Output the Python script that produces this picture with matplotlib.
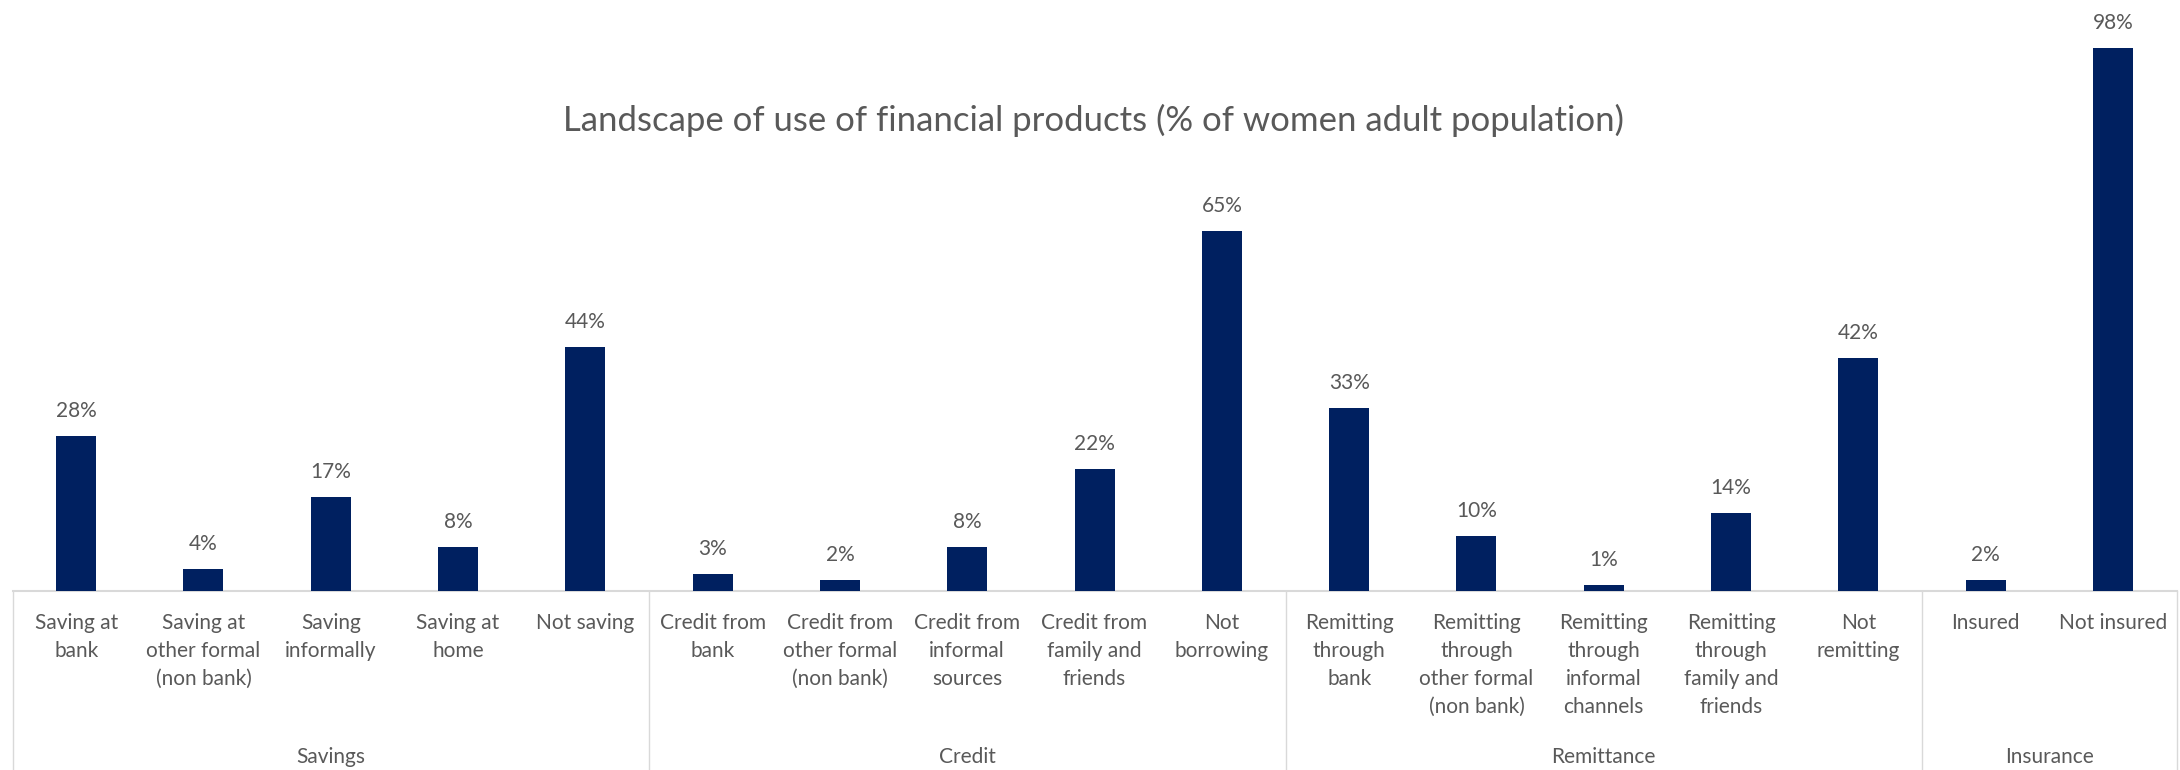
import matplotlib.pyplot as plt
import numpy as np

plt.rcParams['font.family'] = ['Lato', 'DejaVu Sans']

# data: share of women adult population using each product
groups = ["Savings", "Credit", "Remittance", "Insurance"]
group_sizes = [5, 5, 5, 2]
labels = [
    "Saving at\nbank", "Saving at\nother formal\n(non bank)", "Saving\ninformally",
    "Saving at\nhome", "Not saving",
    "Credit from\nbank", "Credit from\nother formal\n(non bank)", "Credit from\ninformal\nsources",
    "Credit from\nfamily and\nfriends", "Not\nborrowing",
    "Remitting\nthrough\nbank", "Remitting\nthrough\nother formal\n(non bank)",
    "Remitting\nthrough\ninformal\nchannels", "Remitting\nthrough\nfamily and\nfriends", "Not\nremitting",
    "Insured", "Not insured",
]
values = [28, 4, 17, 8, 44, 3, 2, 8, 22, 65, 33, 10, 1, 14, 42, 2, 98]

bar_color = "#002060"
text_color = "#595959"
line_color = "#d9d9d9"

W, H = 2180, 770
fig = plt.figure(figsize=(W / 100, H / 100), dpi=100)
ax_left, ax_right = 12.5, 2176.6
ax_bottom, ax_top = 591, 37
ax = fig.add_axes([ax_left / W, 1 - ax_bottom / H,
                   (ax_right - ax_left) / W, (ax_bottom - ax_top) / H])

x = np.arange(len(values))
bars = ax.bar(x, values, width=0.314, color=bar_color, zorder=3)
ax.set_xlim(-0.5, len(values) - 0.5)
ax.set_ylim(0, 100)

for spine in ["top", "right", "left"]:
    ax.spines[spine].set_visible(False)
ax.spines["bottom"].set_color(line_color)
ax.spines["bottom"].set_linewidth(1.5)
ax.set_xticks([])
ax.set_yticks([])

# value labels above bars
for xi, v in zip(x, values):
    ax.annotate(f"{v}%", (xi, v), xytext=(0, 13.7), textcoords="offset points",
                ha="center", va="baseline", fontsize=15, color=text_color)

# category labels under the axis
px = 1.0 / (ax_bottom - ax_top)
trans = ax.get_xaxis_transform()
for xi, lab in zip(x, labels):
    ax.text(xi, -22 * px, lab, transform=trans, ha="center", va="top",
            fontsize=15, color=text_color, linespacing=1.5, clip_on=False)

# group labels and separators
start = 0
bounds = [-0.5]
for name, n in zip(groups, group_sizes):
    mid = start + (n - 1) / 2
    ax.text(mid, -172 * px, name, transform=trans, ha="center", va="baseline",
            fontsize=15, color=text_color, clip_on=False)
    start += n
    bounds.append(start - 0.5)
for b in bounds:
    ax.plot([b, b], [0, -0.35], transform=trans, color=line_color, lw=1.0,
            clip_on=False)

fig.text(1094 / W, 1 - 131 / H,
         "Landscape of use of financial products (% of women adult population)",
         ha="center", va="baseline", fontsize=25, color=text_color)

fig.savefig("out.png", dpi=100)
